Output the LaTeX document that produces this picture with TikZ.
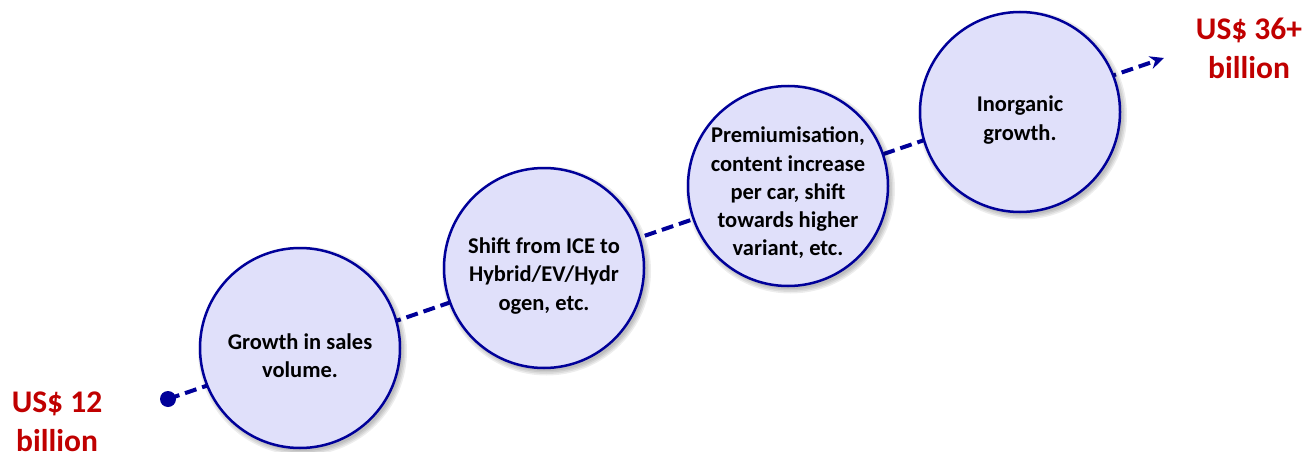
\documentclass[tikz,border=0pt]{standalone}
\usepackage{fontspec}
\setmainfont{Carlito}
\usetikzlibrary{arrows.meta}
\definecolor{ringblue}{RGB}{0,0,153}
\definecolor{discfill}{RGB}{224,224,250}
\definecolor{valred}{RGB}{192,0,0}
\begin{document}
\begin{tikzpicture}[x=1pt,y=-1pt,
  stage/.style={circle, draw=ringblue, line width=2.5pt, fill=discfill,
                minimum size=200pt, inner sep=0pt},
  stagetext/.style={align=center, text=black,
                    font=\fontsize{22.5}{28.3}\selectfont\bfseries},
  value/.style={align=center, text=valred,
                font=\fontsize{31.5}{39}\selectfont\bfseries},
  trend/.style={draw=ringblue, line width=4pt, dash pattern=on 12pt off 6pt},
  softshadow/.style={fill=black, opacity=0.07}
]
\useasboundingbox (0,0) rectangle (1314,452);

% centres of the four stages
\coordinate (p1) at (300,348);
\coordinate (p2) at (544,268);
\coordinate (p3) at (788,186);
\coordinate (p4) at (1020,112);

% growth trend line from start value to end value
\node[circle, fill=ringblue, minimum size=16pt, inner sep=0pt] (start) at (168,399) {};
\coordinate (finish) at (1164,58);
\draw[trend, -{Stealth[length=14pt, width=13pt]}] (start.center) -- (finish);

% soft shadows under the discs
\foreach \p in {p1,p2,p3,p4}{
  \foreach \r in {100,101.5,103,104.5}{
    \fill[softshadow] ([shift={(2.5,3)}]\p) circle (\r);
  }
}

% stage discs
\node[stage] (c1) at (p1) {};
\node[stage] (c2) at (p2) {};
\node[stage] (c3) at (p3) {};
\node[stage] (c4) at (p4) {};

\node[stagetext, yshift=-8pt] (t1) at (c1.center) {Growth in sales\\volume.};
\node[stagetext, yshift=-8pt] (t2) at (c2.center) {Shift from ICE to\\Hybrid/EV/Hydr\\ogen, etc.};
\node[stagetext, yshift=-7pt] (t3) at (c3.center) {Premiumisation,\\content increase\\per car, shift\\towards higher\\variant, etc.};
\node[stagetext, yshift=-8pt] (t4) at (c4.center) {Inorganic\\growth.};

% start and end values
\node[value] (v0) at (57,422) {US\$ 12\\billion};
\node[value] (v1) at (1249,48) {US\$ 36+\\billion};
\end{tikzpicture}
\end{document}
